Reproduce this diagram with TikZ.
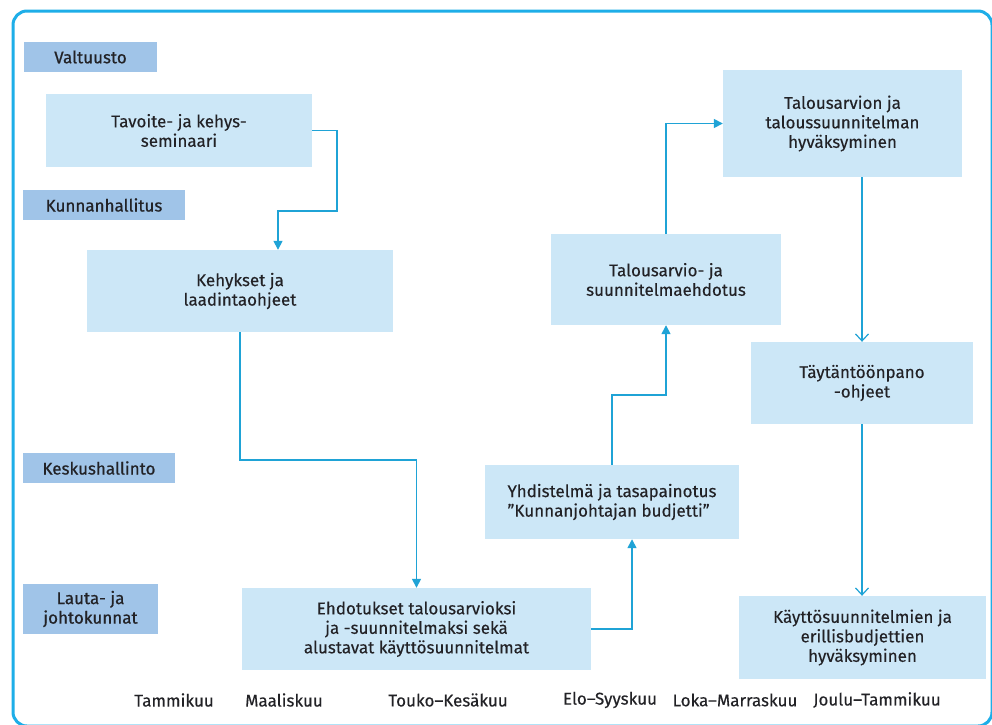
\documentclass[tikz,border=0pt]{standalone}
\usepackage{fontspec}
\setmainfont{Fira Sans}[UprightFeatures={FakeBold=0.25}, BoldFont={Fira Sans}, BoldFeatures={FakeBold=0.7}]
\usetikzlibrary{arrows.meta}
\definecolor{frame}{HTML}{1EAEE8}
\definecolor{wire}{HTML}{1FA3D6}
\definecolor{lane}{HTML}{A0C4E8}
\definecolor{step}{HTML}{CCE7F7}
\definecolor{ink}{HTML}{222226}
\tikzset{
  lanelabel/.style={fill=lane, text=ink, inner sep=0pt, align=center,
    font=\fontsize{17}{19.5}\selectfont\bfseries},
  stepbox/.style={fill=step, text=ink, inner sep=0pt, align=center,
    font=\fontsize{17}{19.5}\selectfont},
  month/.style={text=ink, inner sep=0pt, font=\fontsize{17}{19.5}\selectfont},
  flow/.style={draw=wire, line width=1.5pt},
  solid arrow/.style={flow, -{Triangle[length=9pt, width=9pt]}},
  open arrow/.style={flow, -{Straight Barb[length=7pt, width=13pt, line width=1.2pt]}},
}
\begin{document}
\begin{tikzpicture}[x=1pt, y=-1pt]
\useasboundingbox (0,0) rectangle (992,724);
\fill[white] (0,0) rectangle (992,724);
% outer frame
\draw[frame, line width=3pt, rounded corners=14pt] (13,11) rectangle (992,726);

% organisation levels
\node[lanelabel, minimum width=133, minimum height=30] (val) at (90.5,57) {Valtuusto};
\node[lanelabel, minimum width=162, minimum height=30] (khal) at (104,205) {Kunnanhallitus};
\node[lanelabel, minimum width=152, minimum height=30] (kesk) at (99,468) {Keskushallinto};
\node[lanelabel, minimum width=135, minimum height=50] (lauta) at (90.5,609) {Lauta- ja\\johtokunnat};

% process steps
\node[stepbox, minimum width=266, minimum height=73] (tav) at (179,130.5) {Tavoite- ja kehys-\\seminaari};
\node[stepbox, minimum width=306, minimum height=82] (keh) at (240,291) {Kehykset ja\\laadintaohjeet};
\node[stepbox, minimum width=349, minimum height=82] (ehd) at (416.5,629) {Ehdotukset talousarvioksi\\ja -suunnitelmaksi sekä\\alustavat käyttösuunnitelmat};
\node[stepbox, minimum width=254, minimum height=74, align=left] (yhd) at (612,502) {Yhdistelmä ja tasapainotus\\”Kunnanjohtajan budjetti”};
\node[stepbox, minimum width=230, minimum height=91] (tal) at (666,279.5) {Talousarvio- ja\\suunnitelmaehdotus};
\node[stepbox, minimum width=239, minimum height=107] (hyv) at (842.5,123.5) {Talousarvion ja\\taloussuunnitelman\\hyväksyminen};
\node[stepbox, minimum width=222, minimum height=82] (tay) at (862,383) {Täytäntöönpano\\-ohjeet};
\node[stepbox, minimum width=247, minimum height=83] (kay) at (862.5,637.5) {Käyttösuunnitelmien ja\\erillisbudjettien\\hyväksyminen};

% connectors
\coordinate (c1) at (337,211);
\coordinate (c2) at (416.5,460);
\coordinate (c4) at (666,395);
\draw[solid arrow] (tav.east) -| (c1) -| ([xshift=38]keh.north);
\draw[solid arrow] (keh.south) |- (c2) -- (ehd.north);
\draw[solid arrow] (ehd.east) -| ([xshift=20]yhd.south);
\draw[solid arrow] (yhd.north) |- (c4) -- (tal.south);
\draw[solid arrow] (tal.north) |- (hyv.west);
\draw[open arrow] ([xshift=19.5]hyv.south) -- (tay.north);
\draw[open arrow] (tay.south) -- (tay.south |- kay.north);

% time axis
\node[month] (m1) at (174,700) {Tammikuu};
\node[month] (m2) at (284,700) {Maaliskuu};
\node[month] (m3) at (448,700) {Touko–Kesäkuu};
\node[month] (m4) at (610,700) {Elo–Syyskuu};
\node[month] (m5) at (735,700) {Loka–Marraskuu};
\node[month] (m6) at (877,700) {Joulu–Tammikuu};
\end{tikzpicture}
\end{document}
